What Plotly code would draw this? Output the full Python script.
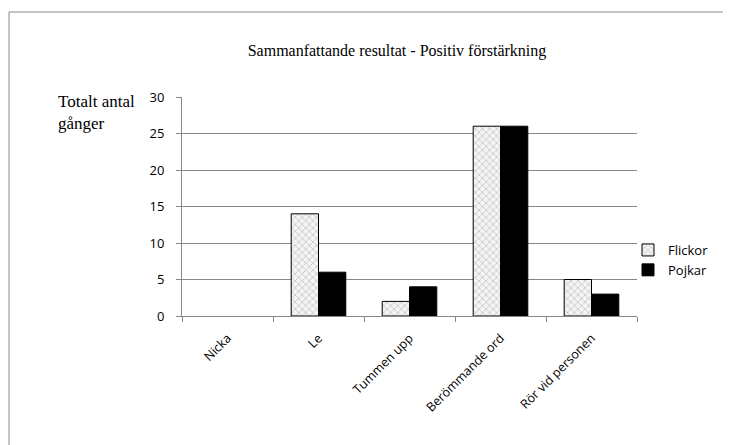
import plotly.graph_objects as go

categories = ["Nicka", "Le", "Tummen upp", "Berömmande ord", "Rör vid personen"]
flickor = [0, 14, 2, 26, 5]
pojkar = [0, 6, 4, 26, 3]
series_names = ["Flickor", "Pojkar"]
title_text = "Sammanfattande resultat - Positiv förstärkning"
ytitle_text = "Totalt antal<br>gånger"

OFF = 8  # page body margin
W, H = 731 - OFF, 445 - OFF
L, R, T, B = 182 - OFF, 94, 97 - OFF, 129
pw, ph = W - L - R, H - T - B


def px_x(v):
    return (v - OFF - L) / pw


def px_y(v):
    return (H - B - (v - OFF)) / ph


def edge_widths(vals):
    return [0 if v == 0 else 1 for v in vals]


hatch = dict(shape="x", fgcolor="#9a9a9a", bgcolor="#f4f4f4", size=5, solidity=0.3)

fig = go.Figure()
fig.add_trace(go.Bar(
    x=categories, y=flickor, name=series_names[0], offsetgroup="f", showlegend=False,
    marker=dict(color="white", line=dict(color="black", width=edge_widths(flickor)), pattern=hatch),
))
fig.add_trace(go.Bar(
    x=categories, y=pojkar, name=series_names[1], offsetgroup="p", showlegend=False,
    marker=dict(color="black", line=dict(color="black", width=edge_widths(pojkar))),
))
# legend entries (no marks of their own)
fig.add_trace(go.Bar(
    x=[categories[0]], y=[None], name=series_names[0], offsetgroup="f",
    marker=dict(color="white", line=dict(color="black", width=1), pattern=hatch),
))
fig.add_trace(go.Bar(
    x=[categories[0]], y=[None], name=series_names[1], offsetgroup="p",
    marker=dict(color="black", line=dict(color="black", width=1)),
))

fig.update_layout(
    width=W, height=H,
    margin=dict(l=L, r=R, t=T, b=B, autoexpand=False),
    paper_bgcolor="white", plot_bgcolor="white",
    barmode="group", bargap=0.4, bargroupgap=0,
    showlegend=True,
    legend=dict(x=px_x(628), y=px_y(260), xanchor="left", yanchor="middle",
                font=dict(family="Open Sans", size=13, color="black"),
                bgcolor="rgba(0,0,0,0)", tracegroupgap=2, itemwidth=30),
    font=dict(family="Liberation Sans", size=12, color="black"),
    xaxis=dict(showline=True, linecolor="#868686", linewidth=1, ticks="outside",
               tickson="boundaries", ticklen=5, tickcolor="#868686", tickangle=-45,
               ticklabelstandoff=9,
               tickfont=dict(family="Open Sans", size=12.5, color="black"),
               showgrid=False, fixedrange=True),
    yaxis=dict(range=[0, 30], dtick=5, showline=True, linecolor="#868686", linewidth=1,
               ticks="outside", ticklen=5, tickcolor="#868686", ticklabelstandoff=9,
               gridcolor="#868686", gridwidth=1, zeroline=False,
               tickfont=dict(family="Open Sans", size=13, color="black"),
               fixedrange=True),
    title=dict(text=title_text, x=(397 - OFF) / W, xanchor="center", y=1 - (50 - OFF) / H,
               yanchor="middle",
               font=dict(family="Liberation Serif", size=16, color="black")),
)

fig.add_annotation(text=ytitle_text, xref="paper", yref="paper",
                   x=px_x(56), y=px_y(90), xanchor="left", yanchor="top", align="left",
                   showarrow=False,
                   font=dict(family="Liberation Serif", size=17, color="black"))

fig.add_shape(type="rect", xref="paper", yref="paper",
              x0=px_x(OFF + 1), x1=px_x(760), y0=px_y(470), y1=px_y(12),
              line=dict(color="#8c8c8c", width=1), layer="below")

fig.write_html("out.html")
